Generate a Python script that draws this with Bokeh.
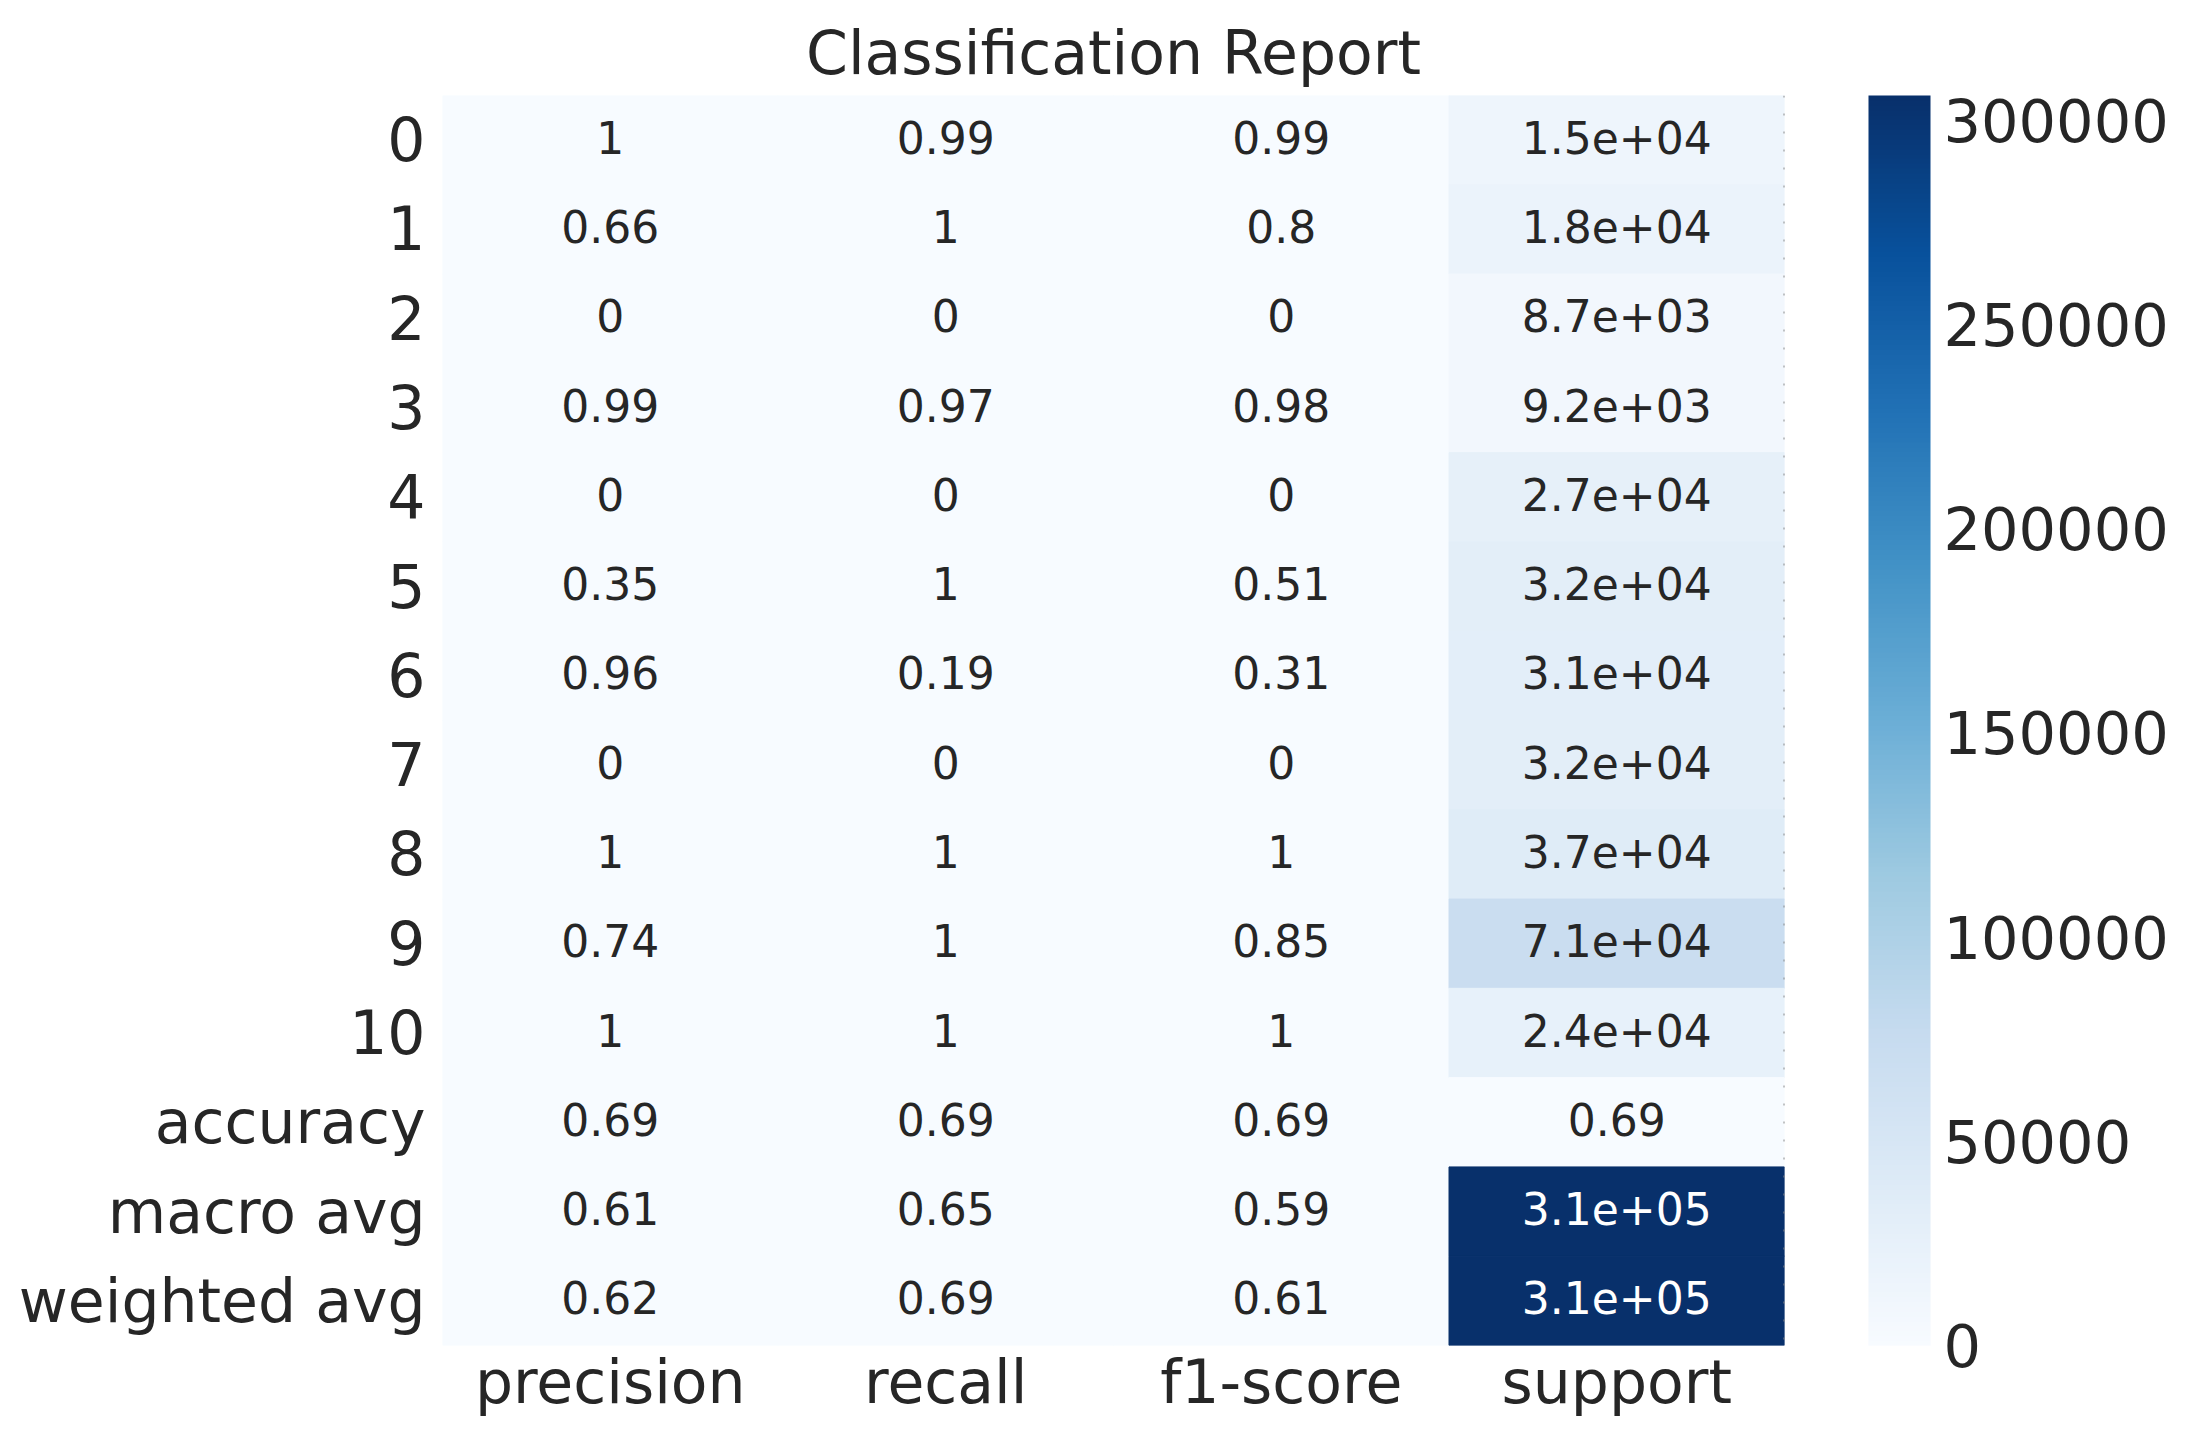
from bokeh.plotting import figure
from bokeh.models import (ColumnDataSource, LinearColorMapper, ColorBar, FixedTicker,
                          Range1d, Span, Title)
from bokeh.palettes import Blues256
from bokeh.core.properties import value
from bokeh.embed import file_html
from bokeh.resources import INLINE

# ---------------- data ----------------
rows = ["0", "1", "2", "3", "4", "5", "6", "7", "8", "9", "10",
        "accuracy", "macro avg", "weighted avg"]
columns = ["precision", "recall", "f1-score", "support"]
precision = [1, 0.66, 0, 0.99, 0, 0.35, 0.96, 0, 1, 0.74, 1, 0.69, 0.61, 0.62]
recall = [0.99, 1, 0, 0.97, 0, 1, 0.19, 0, 1, 1, 1, 0.69, 0.65, 0.69]
f1_score = [0.99, 0.8, 0, 0.98, 0, 0.51, 0.31, 0, 1, 0.85, 1, 0.69, 0.59, 0.61]
support = [15000, 18000, 8700, 9200, 27000, 32000, 31000, 32000, 37000, 71000,
           24000, 0.69, 306000, 306000]
cb_ticks = [0, 50000, 100000, 150000, 200000, 250000, 300000]
cb_labels = ["0", "50000", "100000", "150000", "200000", "250000", "300000"]
title_text = "Classification Report"

# ---------------- layout / style ----------------
FONT = "DejaVu Sans"
TXT = "#262626"
W, H = 2179, 1424
BL, BT = 442, 95
BR = W - 1784
BB = H - 1345
CB_OFFSET, CB_W = 84, 62

series = [precision, recall, f1_score, support]
vmax = max(max(s) for s in series)
vmin = min(min(s) for s in series)

xs, ys, vals, labels, tcolors = [], [], [], [], []
for ci, s in enumerate(series):
    for ri, v in enumerate(s):
        xs.append(ci + 0.5)
        ys.append(ri + 0.5)
        vals.append(v)
        labels.append("{:.2g}".format(v))
        tcolors.append("white" if (v - vmin) / (vmax - vmin) > 0.6 else TXT)

src = ColumnDataSource(dict(x=xs, y=ys, val=vals, label=labels, tcolor=tcolors))

mapper = LinearColorMapper(palette=list(reversed(Blues256)), low=vmin, high=vmax)

p = figure(width=W, height=H, output_backend="svg", toolbar_location=None,
           x_range=Range1d(0, len(columns)), y_range=Range1d(len(rows), 0),
           min_border_left=BL, min_border_right=BR, min_border_top=BT,
           min_border_bottom=BB, background_fill_color="white",
           border_fill_color="white", outline_line_color=None)

p.rect(x="x", y="y", width=1, height=1, source=src,
       fill_color={"field": "val", "transform": mapper},
       line_color={"field": "val", "transform": mapper}, line_width=1)
p.text(x="x", y="y", text="label", source=src, text_color="tcolor",
       text_align="center", text_baseline="middle", text_font_size="44px",
       text_font=value(FONT), y_offset=-3)

p.grid.visible = False

for ax in (p.xaxis[0], p.yaxis[0]):
    ax.axis_line_color = None
    ax.major_tick_line_color = None
    ax.minor_tick_line_color = None
    ax.major_label_text_font = FONT
    ax.major_label_text_font_size = "60px"
    ax.major_label_text_color = TXT

p.xaxis.ticker = FixedTicker(ticks=[i + 0.5 for i in range(len(columns))])
p.xaxis.major_label_overrides = {i + 0.5: c for i, c in enumerate(columns)}
p.xaxis.major_label_standoff = -5
p.yaxis.ticker = FixedTicker(ticks=[i + 0.5 for i in range(len(rows))])
p.yaxis.major_label_overrides = {i + 0.5: r for i, r in enumerate(rows)}
p.yaxis.major_label_standoff = 11
p.yaxis.major_label_orientation = "horizontal"

p.title = Title(text=title_text, align="center", text_font=FONT,
                text_font_size="60px", text_font_style="normal",
                text_color=TXT, standoff=16)

# dotted right edge of heatmap
p.add_layout(Span(location=len(columns), dimension="height", line_color="#8a8a8a",
                  line_width=2, line_dash="2 16"))

cb = ColorBar(color_mapper=mapper, ticker=FixedTicker(ticks=cb_ticks),
              major_label_overrides={t: l for t, l in zip(cb_ticks, cb_labels)},
              major_label_text_font=FONT, major_label_text_font_size="59px",
              major_label_text_color=TXT, label_standoff=13,
              major_tick_line_color=None, minor_tick_line_color=None,
              bar_line_color=None, border_line_color=None,
              background_fill_color=None,
              width=CB_W, height=H - BT - BB, padding=0, margin=0,
              location=(CB_OFFSET, 0))
p.add_layout(cb, "right")

open("out.html", "w").write(file_html(p, INLINE))
